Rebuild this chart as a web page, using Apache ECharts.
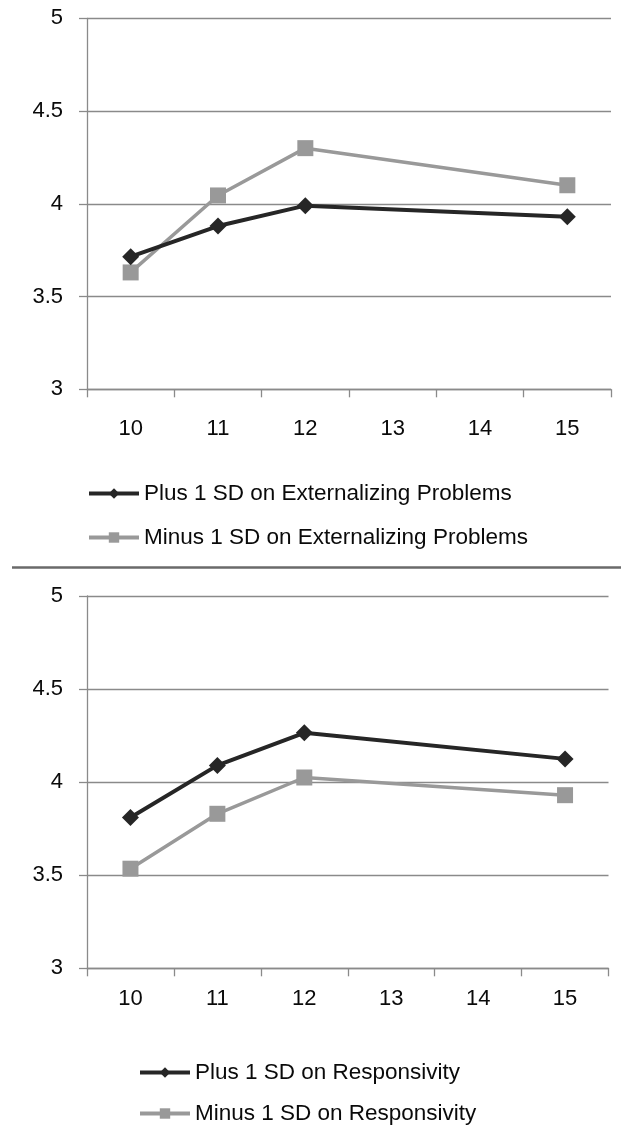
<!DOCTYPE html>
<html>
<head>
<meta charset="utf-8">
<script src="https://cdn.jsdelivr.net/npm/echarts@6/dist/echarts.min.js"></script>
<style>
html,body{margin:0;padding:0;background:#fff;}
#chart{width:621px;height:1129px;}
</style>
</head>
<body>
<div id="chart"></div>
<script>
// Data
const ages = ['10', '11', '12', '13', '14', '15'];
const yTicks = [3, 3.5, 4, 4.5, 5];
const extPlusName = 'Plus 1 SD on Externalizing Problems';
const extMinusName = 'Minus 1 SD on Externalizing Problems';
const extPlus = [3.715, 3.88, 3.99, null, null, 3.93];
const extMinus = [3.63, 4.045, 4.30, null, null, 4.10];
const respPlusName = 'Plus 1 SD on Responsivity';
const respMinusName = 'Minus 1 SD on Responsivity';
const respPlus = [3.81, 4.09, 4.265, null, null, 4.125];
const respMinus = [3.535, 3.83, 4.025, null, null, 3.93];

const FONT = '"Liberation Sans", Arial, sans-serif';
const DARK = '#262626';
const GRAY = '#999999';
const AXIS = '#8a8a8a';
const TXT = '#0a0a0a';

function xAxis(gridIndex, margin) {
  return {
    type: 'category', gridIndex: gridIndex, data: ages, boundaryGap: true,
    axisLine: { show: true, lineStyle: { color: AXIS, width: 1.3 } },
    axisTick: { show: true, length: 8, lineStyle: { color: AXIS, width: 1.3 } },
    axisLabel: { color: TXT, fontFamily: FONT, fontSize: 22, margin: margin },
    splitLine: { show: false }
  };
}
function yAxis(gridIndex) {
  return {
    type: 'value', gridIndex: gridIndex, min: yTicks[0], max: yTicks[yTicks.length - 1], interval: 0.5,
    axisLine: { show: true, lineStyle: { color: AXIS, width: 1.3 } },
    axisTick: { show: true, length: 8, lineStyle: { color: AXIS, width: 1.3 } },
    axisLabel: { color: TXT, fontFamily: FONT, fontSize: 22, margin: 24, padding: [6, 0, 0, 0] },
    splitLine: { show: true, lineStyle: { color: AXIS, width: 1.3 } }
  };
}
function plusSeries(name, data, idx) {
  return {
    name: name, type: 'line', xAxisIndex: idx, yAxisIndex: idx, data: data,
    connectNulls: true, symbol: 'diamond', symbolSize: [17, 17],
    lineStyle: { color: DARK, width: 4 }, itemStyle: { color: DARK },
    emphasis: { disabled: true }, z: 3
  };
}
function minusSeries(name, data, idx) {
  return {
    name: name, type: 'line', xAxisIndex: idx, yAxisIndex: idx, data: data,
    connectNulls: true, symbol: 'rect', symbolSize: 16,
    lineStyle: { color: GRAY, width: 3.5 }, itemStyle: { color: GRAY },
    emphasis: { disabled: true }, z: 2
  };
}
function legendItem(name, left, top, color) {
  return {
    data: [name], orient: 'horizontal', left: left, top: top, padding: 0,
    itemWidth: 50, itemHeight: 13,
    lineStyle: { width: 4, color: color },
    textStyle: { color: TXT, fontFamily: FONT, fontSize: 22.5, lineHeight: 22 },
    selectedMode: false
  };
}

const chart = echarts.init(document.getElementById('chart'), null, { renderer: 'canvas' });
chart.setOption({
  animation: false,
  backgroundColor: '#fff',
  grid: [
    { left: 87, top: 18.3, width: 524, height: 371 },
    { left: 87, top: 596, width: 521.5, height: 372.3 }
  ],
  xAxis: [xAxis(0, 29), xAxis(1, 20)],
  yAxis: [yAxis(0), yAxis(1)],
  legend: [
    legendItem(extPlusName, 87, 482, DARK),
    legendItem(extMinusName, 87, 526, GRAY),
    legendItem(respPlusName, 138, 1061, DARK),
    legendItem(respMinusName, 138, 1102, GRAY)
  ],
  graphic: [
    { type: 'line', shape: { x1: 12, y1: 567.5, x2: 621, y2: 567.5 }, style: { stroke: '#6a6a6a', lineWidth: 2.5 } }
  ],
  series: [
    plusSeries(extPlusName, extPlus, 0),
    minusSeries(extMinusName, extMinus, 0),
    plusSeries(respPlusName, respPlus, 1),
    minusSeries(respMinusName, respMinus, 1)
  ]
});
</script>
</body>
</html>
